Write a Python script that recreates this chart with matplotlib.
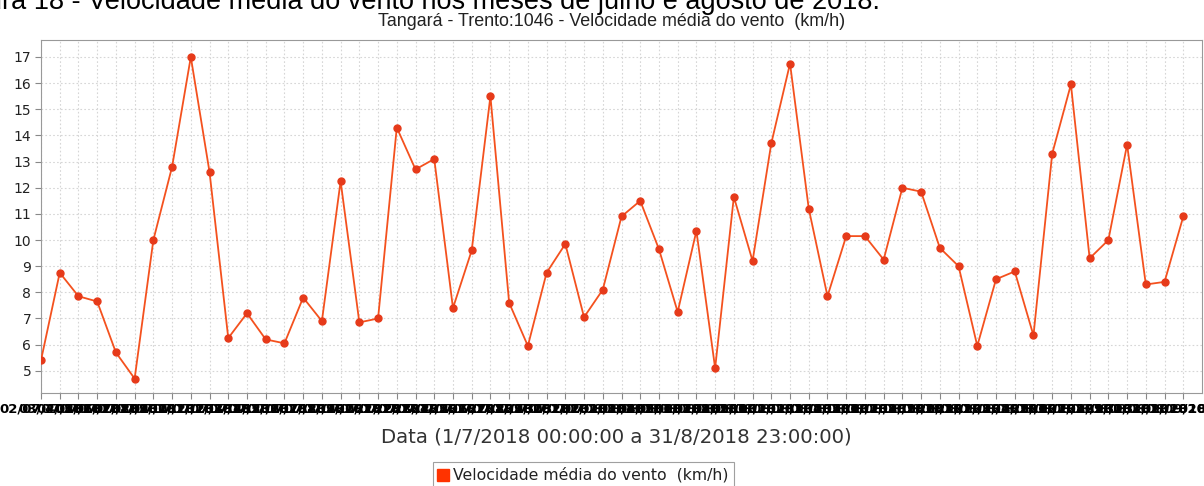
import matplotlib
matplotlib.use("Agg")
import matplotlib.pyplot as plt
from matplotlib.lines import Line2D
import pandas as pd

# daily mean wind speed, 1/7/2018 .. 31/8/2018
velocidade = [5.4, 8.75, 7.85, 7.65, 5.7, 4.7, 10.0, 12.8, 17.0, 12.6,
              6.25, 7.2, 6.2, 6.05, 7.8, 6.9, 12.25, 6.85, 7.0, 14.3,
              12.7, 13.1, 7.4, 9.6, 15.5, 7.6, 5.95, 8.75, 9.85, 7.05,
              8.1, 10.9, 11.5, 9.65, 7.25, 10.35, 5.1, 11.65, 9.2, 13.7,
              16.75, 11.2, 7.85, 10.15, 10.15, 9.25, 12.0, 11.85, 9.7, 9.0,
              5.95, 8.5, 8.8, 6.35, 13.3, 15.95, 9.3, 10.0, 13.65, 8.3,
              8.4, 10.9]
datas = [d.strftime("%d/%m/%Y") for d in pd.date_range("2018-07-02", periods=len(velocidade))]
y_ticks = list(range(5, 18))

titulo = "Tangará - Trento:1046 - Velocidade média do vento  (km/h)"
legenda = "Velocidade média do vento  (km/h)"
xlabel = "Data (1/7/2018 00:00:00 a 31/8/2018 23:00:00)"
legenda_fig = "Figura 18 - Velocidade média do vento nos meses de julho e agosto de 2018."

W, H = 1204, 486
fig = plt.figure(figsize=(W / 100, H / 100), dpi=100)
ax = fig.add_axes([41 / W, 1 - 393 / H, (1202 - 41) / W, (393 - 40) / H])

x = list(range(len(velocidade)))
ax.plot(x, velocidade, color="#F4511E", lw=1.3, marker="o", ms=5,
        mfc="#E63A1A", mec="#E63A1A", zorder=3)

ax.set_xlim(0, 62)
ax.set_ylim(4.15, 17.65)
ax.set_xticks(x)
ax.set_xticklabels(datas, fontsize=9.5, color="black", family="DejaVu Sans",
                   fontweight="bold")
ax.set_yticks(y_ticks)
ax.set_yticklabels([str(v) for v in y_ticks], fontsize=10, color="#222222", family="DejaVu Sans")
ax.tick_params(axis="both", direction="out", length=4, color="#888888", width=0.8)
ax.tick_params(axis="x", pad=3)
ax.tick_params(axis="y", pad=3)

ax.grid(True, color="#D6D6D6", linestyle=(0, (1.5, 2)), lw=0.8)
ax.set_axisbelow(True)
for s in ax.spines.values():
    s.set_color("#999999")
    s.set_linewidth(0.8)

fig.text(616 / W, 1 - 437 / H, xlabel, ha="center", va="center",
         fontsize=14.2, color="#333333", family="DejaVu Sans")
fig.text(612 / W, 1 - 22 / H, titulo, ha="center", va="center",
         fontsize=12.9, color="#222222", family="Liberation Sans")
fig.text(880 / W, 1 - 9 / H, legenda_fig, ha="right", va="baseline",
         fontsize=19.5, color="black", family="Liberation Sans")

handle = Line2D([], [], marker="s", ls="none", ms=8, mfc="#FF3300", mec="#FF3300")
leg = fig.legend([handle], [legenda], loc="upper left",
                 bbox_to_anchor=(433 / W, 1 - 462 / H), fontsize=11.3,
                 frameon=True, fancybox=False, handlelength=0.6,
                 handletextpad=0.3, borderpad=0.35, borderaxespad=0)
leg.get_frame().set_edgecolor("#888888")
leg.get_frame().set_linewidth(0.8)
for t in leg.get_texts():
    t.set_color("#222222")

fig.savefig("out.png", dpi=100)
